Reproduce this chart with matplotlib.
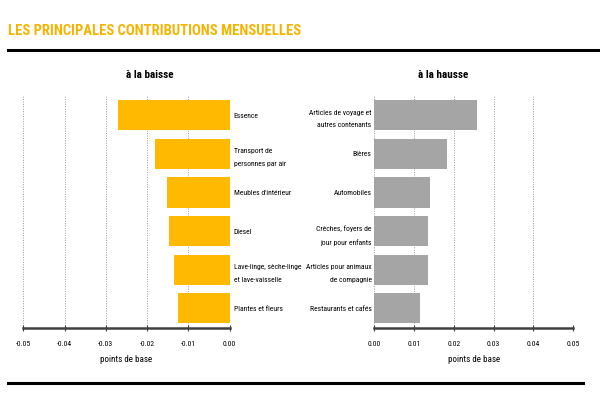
import matplotlib
matplotlib.use("Agg")
import matplotlib.pyplot as plt
from matplotlib.lines import Line2D
from matplotlib import font_manager as fm

names = {f.name for f in fm.fontManager.ttflist}
narrow = [n for n in ["Liberation Sans Narrow", "Roboto Condensed", "Open Sans Condensed",
                      "DejaVu Sans"] if n in names]
plt.rcParams['font.family'] = narrow
plt.rcParams['font.stretch'] = 'condensed'

title = "LES PRINCIPALES CONTRIBUTIONS MENSUELLES"
left_title = "à la baisse"
right_title = "à la hausse"
xlabel = "points de base"

down_cats = ["Essence", "Transport de\npersonnes par air", "Meubles d'intérieur", "Diesel",
             "Lave-linge, sèche-linge\net lave-vaisselle", "Plantes et fleurs"]
down_vals = [-0.0270, -0.0180, -0.0152, -0.0148, -0.0134, -0.0125]

up_cats = ["Articles de voyage et\nautres contenants", "Bières", "Automobiles",
           "Crèches, foyers de\njour pour enfants", "Articles pour animaux\nde compagnie",
           "Restaurants et cafés"]
up_vals = [0.0259, 0.0183, 0.0140, 0.0135, 0.0134, 0.0114]

left_ticks = [-0.05, -0.04, -0.03, -0.02, -0.01, 0.00]
right_ticks = [0.00, 0.01, 0.02, 0.03, 0.04, 0.05]

orange = "#FFB900"
gray = "#A5A5A5"
title_color = "#F5B400"

fig = plt.figure(figsize=(6, 4), dpi=100)
W, H = 600, 400

def ax_rect(x0, x1, y0, y1):
    return [x0 / W, 1 - y1 / H, (x1 - x0) / W, (y1 - y0) / H]

axL = fig.add_axes(ax_rect(23.3, 229.7, 96, 327.7))
axR = fig.add_axes(ax_rect(374.3, 573, 96, 327.7))

def style(ax, ticks, xlim):
    ax.set_xlim(*xlim)
    ax.set_xticks(ticks)
    ax.set_xticklabels([f"{t:.2f}" for t in ticks], fontsize=5.5)
    ax.set_ylim(5.5, -0.5)
    for s in ["top", "left", "right"]:
        ax.spines[s].set_visible(False)
    ax.spines["bottom"].set_color("#404040")
    ax.spines["bottom"].set_linewidth(1.8)
    ax.tick_params(axis="x", direction="inout", length=5, width=0.8, color="#404040", pad=7)
    ax.tick_params(axis="y", length=0)
    ax.grid(axis="x", linestyle=(0, (1, 1.5)), color="#999999", linewidth=0.7)
    ax.set_axisbelow(True)
    ax.set_xlabel(xlabel, fontsize=6.5, labelpad=6)

yL = list(range(len(down_cats)))
axL.barh(yL, down_vals, height=0.78, color=orange)
style(axL, left_ticks, (-0.05, 0.0))
axL.yaxis.tick_right()
axL.set_yticks(yL)
axL.set_yticklabels(down_cats, fontsize=5.5, ha="left", linespacing=2.3)
axL.tick_params(axis="y", pad=3)

yR = list(range(len(up_cats)))
axR.barh(yR, up_vals, height=0.78, color=gray)
style(axR, right_ticks, (0.0, 0.05))
axR.set_yticks(yR)
axR.set_yticklabels(up_cats, fontsize=5.5, ha="right", linespacing=2.3)
axR.tick_params(axis="y", pad=2)

fig.text(8 / W, 1 - 31 / H, title, fontsize=10.5, fontweight="bold", color=title_color,
         ha="left", va="center")
fig.text(150 / W, 1 - 75 / H, left_title, fontsize=8, fontweight="bold", ha="center", va="center")
fig.text(443 / W, 1 - 75 / H, right_title, fontsize=8, fontweight="bold", ha="center", va="center")

fig.add_artist(Line2D([8 / W, 1.0], [1 - 50 / H, 1 - 50 / H], color="black", linewidth=2.2,
                      transform=fig.transFigure))
fig.add_artist(Line2D([8 / W, 583 / W], [1 - 383 / H, 1 - 383 / H], color="black", linewidth=2.2,
                      transform=fig.transFigure))

fig.savefig("out.png", dpi=100)
